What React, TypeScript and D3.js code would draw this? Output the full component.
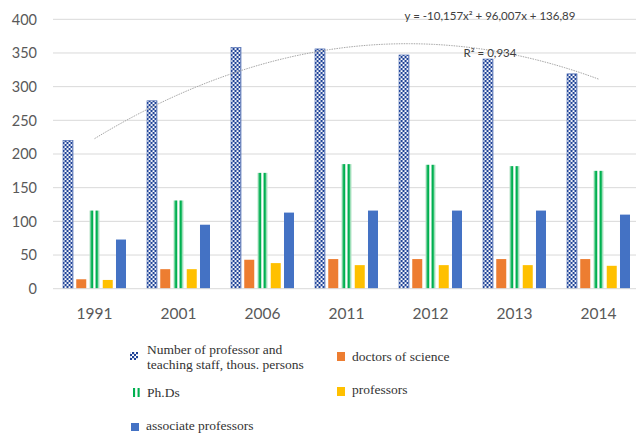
import React from "react";
import * as d3 from "d3";

const years = ["1991", "2001", "2006", "2011", "2012", "2013", "2014"];
const staffTotal = [220, 279, 358, 356, 347, 341, 319];
const doctorsOfScience = [14, 29, 43, 44, 44, 44, 44];
const phDs = [116, 131, 172, 185, 184, 182, 175];
const professors = [13, 29, 38, 35, 35, 35, 34];
const associateProfessors = [73, 95, 113, 116, 116, 116, 110];
const yTicks = [0, 50, 100, 150, 200, 250, 300, 350, 400];
const trendCoef = [-10.157, 96.007, 136.89];
const trendEquation = "y = -10,157x² + 96,007x + 136,89";
const trendR2 = "R² = 0,934";

const seriesKeys = ["total", "doc", "phd", "prof", "assoc"];
const seriesFill: Record<string, string> = {
  total: "url(#checker)",
  doc: "#ED7D31",
  phd: "url(#stripes)",
  prof: "#FFC000",
  assoc: "#4472C4",
};

export default function App() {
  const W = 636, H = 433;
  const y = d3.scaleLinear().domain([0, 400]).range([288.7, 19.3]);
  const x = d3.scaleBand().domain(years).range([52.5, 640.5]).paddingInner(0).paddingOuter(0);
  const xi = d3.scaleBand().domain(seriesKeys).range([10.5, 73.5]).paddingInner(0.245).paddingOuter(0);
  const seriesValues: Record<string, number[]> = {
    total: staffTotal,
    doc: doctorsOfScience,
    phd: phDs,
    prof: professors,
    assoc: associateProfessors,
  };
  const trendPts: [number, number][] = [];
  for (let t = 1; t <= 7.0001; t += 0.05) {
    const v = trendCoef[0] * t * t + trendCoef[1] * t + trendCoef[2];
    const px = (x(years[0]) as number) + x.bandwidth() / 2 + (t - 1) * x.step();
    trendPts.push([px, y(v)]);
  }
  const line = d3.line();
  const axisFont = "Lato, 'Open Sans', sans-serif";
  const serif = "'Liberation Serif', 'Times New Roman', serif";
  return (
    <svg width={W} height={H} style={{ position: "fixed", left: 0, top: 0, background: "#fff" }}>
      <defs>
        <pattern id="checker" patternUnits="userSpaceOnUse" width={4} height={4}>
          <rect width={4} height={4} fill="#fff" />
          <rect x={0} y={0} width={2.2} height={2.2} fill="#1F4397" />
          <rect x={2} y={2} width={2.2} height={2.2} fill="#1F4397" />
        </pattern>
        <pattern id="stripes" patternUnits="objectBoundingBox" patternContentUnits="objectBoundingBox" width={1} height={1}>
          <rect width={1} height={1} fill="#fff" />
          <rect x={0} width={0.1} height={1} fill="#B7E4C7" />
          <rect x={0.12} width={0.26} height={1} fill="#00B050" />
          <rect x={0.6} width={0.26} height={1} fill="#00B050" />
          <rect x={0.9} width={0.1} height={1} fill="#B7E4C7" />
        </pattern>
        <pattern id="legstripes" patternUnits="objectBoundingBox" patternContentUnits="objectBoundingBox" width={1} height={1}>
          <rect width={1} height={1} fill="#fff" />
          <rect x={0} width={0.3} height={1} fill="#00B050" />
          <rect x={0.65} width={0.3} height={1} fill="#00B050" />
        </pattern>
      </defs>
      {yTicks.map((t) => (
        <g key={t}>
          {t > 0 && <line x1={53} x2={636} y1={y(t)} y2={y(t)} stroke="#D9D9D9" strokeWidth={1} />}
          <text x={37} y={y(t)} dy="0.36em" textAnchor="end" fontFamily={axisFont} fontSize={14.5} fill="#595959">
            {t}
          </text>
        </g>
      ))}
      {years.map((yr, i) => (
        <g key={yr} transform={`translate(${x(yr)},0)`}>
          {seriesKeys.map((k) => {
            const v = seriesValues[k][i];
            return (
              <rect
                key={k}
                x={xi(k)}
                y={y(v)}
                width={xi.bandwidth()}
                height={y(0) - y(v)}
                fill={seriesFill[k]}
                stroke={k === "total" ? "#3A5CAB" : "none"}
                strokeWidth={0.6}
              />
            );
          })}
          <text x={x.bandwidth() / 2} y={313} dy="0.36em" textAnchor="middle" fontFamily={axisFont} fontSize={15.5} fill="#595959">
            {yr}
          </text>
        </g>
      ))}
      <line x1={53} x2={636} y1={y(0)} y2={y(0)} stroke="#D9D9D9" strokeWidth={1} />
      <path d={line(trendPts) || ""} fill="none" stroke="#A6A6A6" strokeWidth={1} strokeDasharray="1.5 1" />
      <text x={490} y={16} dy="0.36em" textAnchor="middle" fontFamily={axisFont} fontSize={11.5} fill="#404040">
        {trendEquation}
      </text>
      <text x={490} y={53} dy="0.36em" textAnchor="middle" fontFamily={axisFont} fontSize={11.5} fill="#404040">
        {trendR2}
      </text>
      <g fontFamily={serif} fontSize={13.5} fill="#333">
        <rect x={130} y={352} width={8} height={8} fill="url(#checker)" />
        <text x={147} y={354}>Number of professor and</text>
        <text x={147} y={369}>teaching staff, thous. persons</text>
        <rect x={337} y={352} width={8} height={9} fill="#ED7D31" />
        <text x={352} y={361}>doctors of science</text>
        <rect x={133} y={388} width={7} height={9} fill="url(#legstripes)" />
        <text x={147} y={397}>Ph.Ds</text>
        <rect x={337} y={387} width={8} height={9} fill="#FFC000" />
        <text x={352} y={394}>professors</text>
        <rect x={131} y={423} width={8} height={8} fill="#4472C4" />
        <text x={146} y={430}>associate professors</text>
      </g>
    </svg>
  );
}
